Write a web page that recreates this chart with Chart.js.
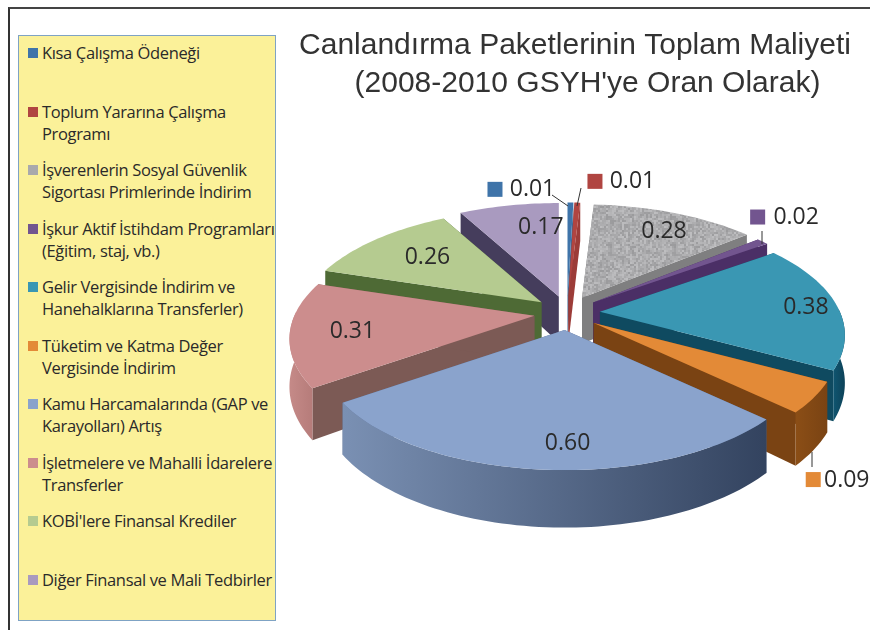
<!DOCTYPE html>
<html><head><meta charset="utf-8">
<script src="https://cdn.jsdelivr.net/npm/chart.js@4"></script>
<style>
html,body{margin:0;padding:0;background:#fff;width:870px;height:630px;overflow:hidden}
#frame{position:absolute;left:8px;top:7px;width:870px;height:640px;border-left:2px solid #333;border-top:2px solid #444}
#panel{position:absolute;left:18px;top:35px;width:256px;height:584px;background:#fbf199;border:1px solid #7fa3c4}
.row{position:absolute;font:16.5px/22px "Open Sans",sans-serif;letter-spacing:-.35px;color:#2a2a2a;white-space:pre;}
.sw{position:absolute;width:10px;height:10px}
canvas{position:absolute;left:280px;top:0}
</style></head><body>
<div id="frame"></div><div id="panel"></div>
<canvas id="c" width="590" height="630"></canvas>
<script>
const titleLines=["Canlandırma Paketlerinin Toplam Maliyeti","   (2008-2010 GSYH'ye Oran Olarak)"];
const categories=["Kısa Çalışma Ödeneği","Toplum Yararına Çalışma\nProgramı","İşverenlerin Sosyal Güvenlik\nSigortası Primlerinde İndirim","İşkur Aktif İstihdam Programları\n(Eğitim, staj, vb.)","Gelir Vergisinde İndirim ve\nHanehalklarına Transferler)","Tüketim ve Katma Değer\nVergisinde İndirim","Kamu Harcamalarında (GAP ve\nKarayolları) Artış","İşletmelere ve Mahalli İdarelere\nTransferler","KOBİ'lere Finansal Krediler","Diğer Finansal ve Mali Tedbirler"];
const values=[0.01,0.01,0.28,0.02,0.38,0.09,0.60,0.31,0.26,0.17];
const topColors=["#3f74a9","#b04541","#a9a9ac","#72558f","#3a97b3","#e38a37","#8aa3cc","#cc8d8d","#b5cb90","#a99abf"];
const wallColors=["#3f6a96","#9c3c38","#7f7f80","#4b2f66","#0f4a60","#7a4313","#56688a","#7c5a55","#4e6a35","#453d5c"];
const rimLeft=["#3f6a96","#9c3c38","#8a8a8a","#4b2f66","#0f5570","#8b4e16","#7a90b3","#c58a88","#6e8a4e","#5d5078"];
const rimRight=["#3f6a96","#9c3c38","#8a8a8a","#4b2f66","#0d4258","#7a4313","#33435f","#b67c7a","#6e8a4e","#5d5078"];

// Projection of the pie plane into a tilted perspective view
const CX=567,CY=313,RX=240,RY=112,K=0.2,DEPTH=46,OFF_Y=0.52;
function speckle(){
  const c=document.createElement('canvas');c.width=c.height=64;const x=c.getContext('2d');
  let s=12345;
  for(let i=0;i<32;i++)for(let j=0;j<32;j++){
    s=(s*1103515245+12345)&0x7fffffff;
    const g=155+((s>>8)%36);
    x.fillStyle=`rgb(${g},${g},${g+2})`;x.fillRect(i*2,j*2,2,2);
  }
  return c;
}
const speck=speckle();
// label offsets from each slice apex: [dx,dy,markerGap,leader]
const labelPlace=[[-35,-106,45,[552,195,568,206]],[64,-114,45,[581,188,577,206]],[82,-66,0],[203,-85,46,[762,231,762,244]],[206,-4,0],[253,157,41,[812,452,812,467]],[3,113,0],[-182,16,0],[-114,-45,0],[-18,-69,0]];

const pie3d={id:'pie3d',beforeDatasetsDraw(chart){
  const ctx=chart.ctx,left=chart.canvas.offsetLeft,arcs=chart.getDatasetMeta(0).data;
  const items=arcs.map((arc,i)=>{
    const t0=arc.startAngle+Math.PI/2,t1=arc.endAngle+Math.PI/2,mid=(t0+t1)/2,off=arc.options.offset;
    return {i,t0,t1,mid,ax:CX-left+off*Math.sin(mid),ay:CY-off*OFF_Y*Math.cos(mid)};
  });
  const pt=(it,r,t,z)=>{const u=r*Math.sin(t),v=-r*Math.cos(t),s=1/(1-K*v);
    return [it.ax+RX*u*s,it.ay+RY*v*s+z*DEPTH*s];};
  const poly=(pts,fill)=>{ctx.beginPath();pts.forEach((p,n)=>n?ctx.lineTo(p[0],p[1]):ctx.moveTo(p[0],p[1]));ctx.closePath();ctx.fillStyle=fill;ctx.fill();};
  ctx.save();
  [...items].sort((a,b)=>(-Math.cos(a.mid))-(-Math.cos(b.mid))).forEach(it=>{
    const i=it.i,n=Math.max(4,Math.ceil((it.t1-it.t0)*40));
    const rim=[];for(let k=0;k<=n;k++)rim.push(it.t0+(it.t1-it.t0)*k/n);
    poly([pt(it,0,0,0),pt(it,1,it.t0,0),pt(it,1,it.t0,1),pt(it,0,0,1)],wallColors[i]);
    poly([pt(it,0,0,0),pt(it,1,it.t1,0),pt(it,1,it.t1,1),pt(it,0,0,1)],wallColors[i]);
    // only the part of the rim that faces the viewer
    const front=rim.filter(t=>Math.cos(t)<0.05);
    if(front.length>1){
      const top=front.map(t=>pt(it,1,t,0)),bot=front.map(t=>pt(it,1,t,1));
      const xs=top.map(p=>p[0]),g=ctx.createLinearGradient(Math.min(...xs),0,Math.max(...xs),0);
      g.addColorStop(0,rimLeft[i]);g.addColorStop(1,rimRight[i]);
      poly([...top,...bot.reverse()],g);
    }
    poly([pt(it,0,0,0),...rim.map(t=>pt(it,1,t,0))],i===2?ctx.createPattern(speck,'repeat'):topColors[i]);
  });
  ctx.textAlign='center';ctx.textBaseline='middle';
  ctx.font='23px "Open Sans",sans-serif';
  items.forEach(it=>{
    const [dx,dy,gap,lead]=labelPlace[it.i],x=it.ax+dx,y=it.ay+dy;
    ctx.fillStyle='#2a2a2a';ctx.fillText(values[it.i].toFixed(2),x,y);
    if(gap){
      ctx.fillStyle=topColors[it.i];ctx.fillRect(x-gap,y-8,15,15);
      ctx.strokeStyle='#333';ctx.lineWidth=1;ctx.beginPath();
      ctx.moveTo(lead[0]-left,lead[1]);ctx.lineTo(lead[2]-left,lead[3]);ctx.stroke();
    }
  });
  ctx.restore();
  return false;
}};

new Chart(document.getElementById('c'),{
  type:'pie',
  data:{labels:categories.map(s=>s.replace('\n',' ')),datasets:[{data:values,backgroundColor:topColors,offset:33,borderWidth:0}]},
  options:{responsive:false,animation:false,
    plugins:{legend:{display:false},tooltip:{enabled:false},
      title:{display:true,text:titleLines,color:'#333',padding:{top:27,bottom:0},
        font:{family:'"Liberation Sans",Arial,sans-serif',size:30,weight:'normal',lineHeight:1.27}}}},
  plugins:[pie3d]
});

categories.forEach((c,i)=>{
  const y=53+58.5*i;
  const r=document.createElement('div');r.className='row';r.textContent=c;r.style.left='42px';r.style.top=(y-11)+'px';
  const s=document.createElement('div');s.className='sw';s.style.left='28px';s.style.top=(y-5)+'px';s.style.background=topColors[i];
  document.body.append(s,r);
});
</script></body></html>
